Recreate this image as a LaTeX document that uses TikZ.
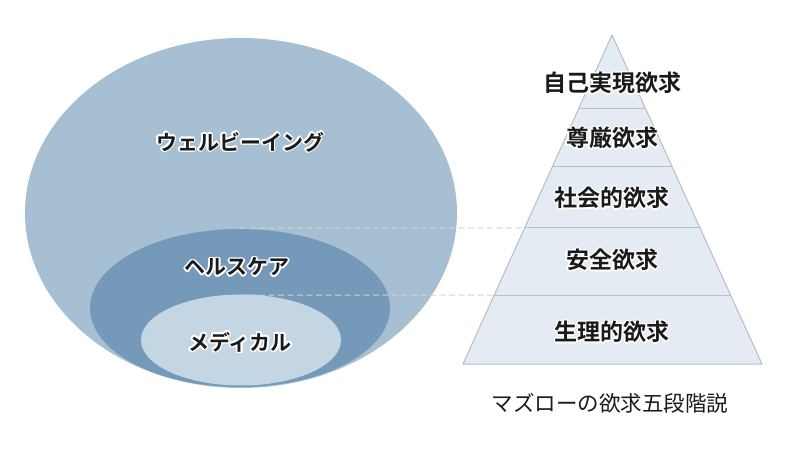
\documentclass[tikz,border=0pt]{standalone}
\usepackage{fontspec}
\newfontfamily\jpfont{Noto Sans CJK JP}[BoldFont={* Bold}]
\usetikzlibrary{calc}
\definecolor{wellc}{HTML}{A6BFD2}
\definecolor{healc}{HTML}{7599B8}
\definecolor{medc}{HTML}{C4D6E4}
\definecolor{pyrc}{HTML}{E4EBF2}
\definecolor{pyredge}{HTML}{B7BEC6}
\definecolor{dashc}{HTML}{D2D4D8}
\definecolor{txtc}{HTML}{1A1A1A}
\tikzset{
  lbl/.style={inner sep=0pt, font=\jpfont\bfseries\fontsize{21}{21}\selectfont, text=txtc},
  plbl/.style={inner sep=0pt, font=\jpfont\bfseries\fontsize{23}{23}\selectfont, text=txtc},
  captionstyle/.style={inner sep=0pt, font=\jpfont\fontsize{21.5}{21.5}\selectfont, text=txtc},
  layerline/.style={draw=pyredge, line width=1pt},
  guide/.style={draw=dashc, line width=1pt, dash pattern=on 6pt off 3.5pt},
}
\newcommand\halonode[5]{% style, name, position, halo width, text
  \foreach \a in {0,30,...,330} {\node[#1, text=white] at ($(#3)+(\a:#4)$) {#5};}
  \node[#1] (#2) at (#3) {#5};
}
\begin{document}
\begin{tikzpicture}[x=1pt, y=-1pt]
\useasboundingbox (0,0) rectangle (800,450);
\fill[white] (0,0) rectangle (800,450);
% nested ellipses
\fill[wellc] (241,213) ellipse [x radius=216pt, y radius=175pt];
\fill[healc] (240,308) ellipse [x radius=150pt, y radius=79pt];
\fill[medc] (241,340) ellipse [x radius=100pt, y radius=45.5pt];
% pyramid
\coordinate (apex) at (612,35);
\coordinate (bl) at (463,364);
\coordinate (br) at (762,364);
\fill[pyrc] (apex) -- (bl) -- (br) -- cycle;
\draw[pyredge, line width=1pt, line join=round] (apex) -- (bl) -- (br) -- cycle;
\foreach \n/\t in {l1/0.2249, l2/0.3982, l3/0.5866, l4/0.7903} {
  \coordinate (\n a) at ($(apex)!\t!(bl)$);
  \coordinate (\n b) at ($(apex)!\t!(br)$);
  \draw[layerline] (\n a) -- (\n b);
}
% guide lines
\coordinate (g1) at (240,228);
\coordinate (g2) at (240,295);
\draw[guide] (g1) -- (l3a);
\draw[guide] (g2) -- (l4a);
% labels
\halonode{lbl}{well}{240,142}{1.7pt}{ウェルビーイング}
\halonode{lbl}{heal}{237,267}{1.7pt}{ヘルスケア}
\halonode{lbl}{med}{240,342}{1.7pt}{メディカル}
\halonode{plbl}{p5}{612,83}{1.3pt}{自己実現欲求}
\halonode{plbl}{p4}{612,138}{1.3pt}{尊厳欲求}
\halonode{plbl}{p3}{612,198}{1.3pt}{社会的欲求}
\halonode{plbl}{p2}{612,260}{1.3pt}{安全欲求}
\halonode{plbl}{p1}{612,332}{1.3pt}{生理的欲求}
\node[captionstyle] (caption) at (610,403) {マズローの欲求五段階説};
\end{tikzpicture}
\end{document}
